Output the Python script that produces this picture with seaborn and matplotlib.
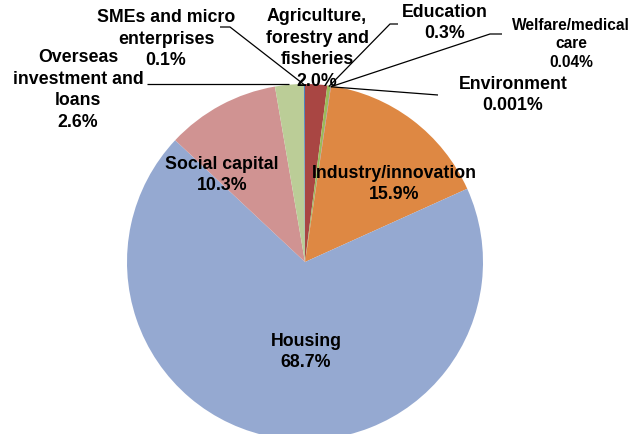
import numpy as np
import matplotlib
matplotlib.use("Agg")
import matplotlib.pyplot as plt
import seaborn as sns

# Composition of lending by sector (%)
sectors = [
    "Agriculture,\nforestry and\nfisheries",
    "Education",
    "Welfare/medical\ncare",
    "Environment",
    "Industry/innovation",
    "Housing",
    "Social capital",
    "Overseas\ninvestment and\nloans",
    "SMEs and micro\nenterprises",
]
shares = [2.0, 0.3, 0.04, 0.001, 15.9, 68.7, 10.3, 2.6, 0.1]
decimals = [1, 1, 2, 3, 1, 1, 1, 1, 1]
colors = ["#A94643", "#9BBB59", "#8064A2", "#4BACC6", "#DE8843",
          "#95A9D1", "#D09392", "#BBCD97", "#4F81BD"]

sns.set_theme(style="white")
plt.rcParams["font.family"] = ["Liberation Sans", "DejaVu Sans"]

W, H = 634, 434
fig = plt.figure(figsize=(W / 100, H / 100), dpi=100)
ax = fig.add_axes([0, 0, 1, 1])
ax.set_xlim(0, W)
ax.set_ylim(0, H)
ax.set_aspect("equal")
ax.axis("off")

cx, cy, r = 305, 172, 178
wedges, _ = ax.pie(shares, colors=colors, startangle=90, counterclock=False,
                   center=(cx, cy), radius=r, normalize=True,
                   wedgeprops=dict(linewidth=0))
ax.set_xlim(0, W)
ax.set_ylim(0, H)


def edge_point(w, frac=1.0):
    ang = np.deg2rad((w.theta1 + w.theta2) / 2)
    return cx + frac * r * np.cos(ang), cy + frac * r * np.sin(ang)


# label placement: (x, y, fontsize, linespacing)
label_pos = [
    (317, 385, 12.8, 1.38),
    (445, 411, 12.8, 1.38),
    (571, 390, 11.2, 1.3),
    (513, 339, 12.8, 1.38),
    (394, 250, 12.8, 1.38),
    (306, 82, 12.8, 1.38),
    (222, 259, 12.8, 1.38),
    (78, 344, 12.8, 1.38),
    (166, 395, 12.8, 1.38),
]
for name, v, d, (x, y, fs, ls) in zip(sectors, shares, decimals, label_pos):
    ax.text(x, y, f"{name}\n{v:.{d}f}%", ha="center", va="center",
            fontsize=fs, fontweight="bold", color="black", linespacing=ls)

# leader lines for the thin slices: elbow point(s) then slice edge
leaders = {
    1: [(398, 410), (390, 410)],
    2: [(502, 400), (490, 400)],
    3: [(438, 339)],
    7: [(147, 350)],
    8: [(220, 407), (230, 407)],
}
for i, pts in leaders.items():
    ex, ey = edge_point(wedges[i], 0.995)
    xs = [p[0] for p in pts] + [ex]
    ys = [p[1] for p in pts] + [ey]
    if i == 7:
        ys[-1] = ys[0]
    ax.plot(xs, ys, color="black", linewidth=0.9, solid_capstyle="butt")

fig.savefig("out.png", dpi=100)
